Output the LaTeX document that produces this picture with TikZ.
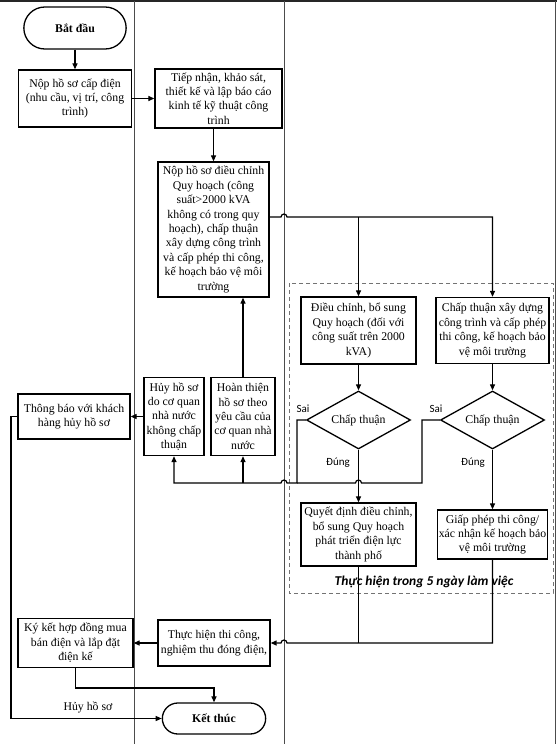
\documentclass[tikz,border=0pt]{standalone}
\usepackage{fontspec}
\setmainfont{Liberation Serif}
\newfontfamily\labfont{Carlito}
\usetikzlibrary{shapes.geometric,shapes.misc,arrows.meta,calc}
\tikzset{
  bx/.style={draw, line width=1.3pt, align=center, inner sep=1.5pt, font=\fontsize{11.8}{14.4}\selectfont},
  term/.style={draw, line width=1.3pt, rounded rectangle, align=center, font=\fontsize{11.8}{14.4}\selectfont\bfseries},
  dec/.style={draw, line width=1.3pt, diamond, aspect=1.8, minimum width=104pt, minimum height=58pt, inner sep=0pt, font=\fontsize{11.8}{14.4}\selectfont},
  con/.style={line width=1.2pt},
  arr/.style={line width=1.2pt, -{Triangle[length=6pt,width=5pt]}},
  lane/.style={line width=0.8pt, black!70},
  lab/.style={font=\labfont\fontsize{11}{13}\selectfont, inner sep=1pt},
}
\begin{document}
\begin{tikzpicture}[x=1pt,y=-1pt]
\useasboundingbox (0,0) rectangle (557,744);
% lanes
\draw[line width=1.4pt, black!85] (0,1) -- (557,1);
\draw[lane] (134,1) -- (134,744);
\draw[lane] (284,1) -- (284,744);
\draw[lane] (555.5,1) -- (555.5,744);
% dashed region
\draw[dashed, black!55, line width=0.9pt, dash pattern=on 4pt off 3pt] (289,283) rectangle (553,593);
\node[font=\labfont\fontsize{13.5}{15}\selectfont\bfseries\itshape] (note) at (424,582) {Thực hiện trong 5 ngày làm việc};

% nodes
\node[term, minimum width=109pt, minimum height=42pt] (start) at (75,28) {Bắt đầu};
\node[bx, minimum width=113pt, minimum height=57pt] (b1) at (75,98.5) {Nộp hồ sơ cấp điện\\(nhu cầu, vị trí, công\\trình)};
\node[bx, minimum width=127pt, minimum height=59pt] (b2) at (218.5,98.5) {Tiếp nhận, khảo sát,\\thiết kế và lập báo cáo\\kinh tế kỹ thuật công\\trình};
\node[bx, minimum width=111pt, minimum height=135pt] (b3) at (213.5,229.5) {Nộp hồ sơ điều chỉnh\\Quy hoạch (công\\suất>2000 kVA\\không có trong quy\\hoạch), chấp thuận\\xây dựng công trình\\và cấp phép thi công,\\kế hoạch bảo vệ môi\\trường};
\node[bx, minimum width=115pt, minimum height=67pt] (b4) at (358.5,330.5) {Điều chỉnh, bổ sung\\Quy hoạch (đối với\\công suất trên 2000\\kVA)};
\node[bx, minimum width=113pt, minimum height=66pt] (b5) at (492.5,330.5) {Chấp thuận xây dựng\\công trình và cấp phép\\thi công, kế hoạch bảo\\vệ môi trường};
\node[dec] (d1) at (358.5,420) {Chấp thuận};
\node[dec] (d2) at (492.5,420) {Chấp thuận};
\node[bx, minimum width=115pt, minimum height=63pt] (b6) at (358.5,534.5) {Quyết định điều chỉnh,\\bổ sung Quy hoạch\\phát triển điện lực\\thành phố};
\node[bx, minimum width=110pt, minimum height=49pt] (b7) at (492.5,534.5) {Giấp phép thi công/\\xác nhận kế hoạch bảo\\vệ môi trường};
\node[bx, minimum width=60pt, minimum height=78pt, inner sep=1pt] (hb) at (174,416.5) {Hủy hồ sơ\\do cơ quan\\nhà nước\\không chấp\\thuận};
\node[bx, minimum width=64pt, minimum height=78pt, inner sep=1pt] (ht) at (243,416.5) {Hoàn thiện\\hồ sơ theo\\yêu cầu của\\cơ quan nhà\\nước};
\node[bx, minimum width=112pt, minimum height=45pt] (tb) at (74,416.5) {Thông báo với khách\\hàng hủy hồ sơ};
\node[bx, minimum width=115pt, minimum height=49pt] (kk) at (75.5,643) {Ký kết hợp đồng mua\\bán điện và lắp đặt\\điện kế};
\node[bx, minimum width=112pt, minimum height=46pt] (th) at (214,643) {Thực hiện thi công,\\nghiệm thu đóng điện,};
\node[term, minimum width=110pt, minimum height=31pt] (kt) at (214,718.5) {Kết thúc};

% labels
\node[lab] (s1) at (303,409) {Sai};
\node[lab] (s2) at (436,409) {Sai};
\node[lab] (u1) at (338,463) {Đúng};
\node[lab] (u2) at (473,463) {Đúng};
\node[font=\fontsize{11.8}{14}\selectfont] (hl) at (88,707) {Hủy hồ sơ};

% connectors
\draw[arr] (start.south) -- (b1.north);
\draw[arr] (b1.east) -- (b2.west);
\draw[arr] (b2.south -| b3.north) -- (b3.north);
\draw[arr] ([yshift=12.5pt]b3.east) -- (281,217) arc[start angle=180, end angle=0, radius=3pt] -- (b5.north |- 0,217) -- (b5.north);
\draw[arr] (b4.north |- 0,217) -- (b4.north);
\draw[arr] (b4.south) -- (d1.north);
\draw[arr] (b5.south) -- (d2.north);
\draw[arr] (d1.south) -- (b6.north);
\draw[arr] (d2.south) -- (b7.north);
% Sai branches
\draw[con] (d2.west) -- (422,420) -- (422,483) -- (361.5,483) arc[start angle=0, end angle=180, radius=3pt] -- (297,483);
\draw[arr] (d1.west) -- (297,420) -- (297,483) -- (287,483) arc[start angle=0, end angle=180, radius=3pt] -- (hb.south |- 0,483) -- (hb.south);
\draw[arr] (ht.south |- 0,483) -- (ht.south);
\draw[arr] (ht.north) -- (ht.north |- b3.south);
\draw[arr] (hb.west) -- (tb.east);
% bottom
\draw[con] (b6.south) -- (b6.south |- 0,643);
\draw[arr] (b7.south) -- (b7.south |- 0,643) -- (287,643) arc[start angle=0, end angle=180, radius=3pt] -- (th.east);
\draw[arr] (th.west) -- (kk.east);
\draw[arr] (kk.south) -- (kk.south |- 0,688) -| (kt.north);
\draw[arr] (tb.west) -- (11,416.5) |- (kt.west);
\end{tikzpicture}
\end{document}
